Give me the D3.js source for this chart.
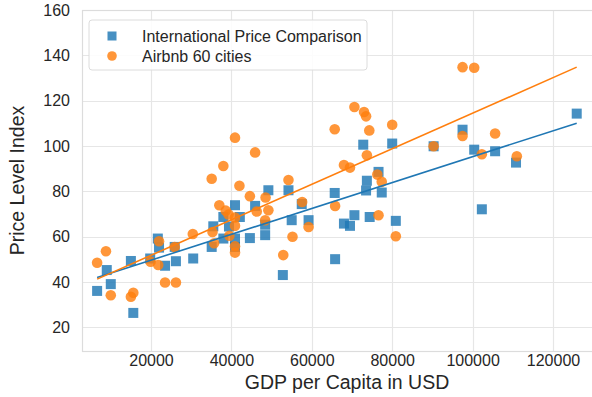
<!DOCTYPE html>
<html>
<head>
<meta charset="utf-8">
<script src="https://cdn.jsdelivr.net/npm/d3@7"></script>
<style>
  html, body { margin: 0; padding: 0; background: #fff; }
  svg { display: block; font-family: "Liberation Sans", Arial, sans-serif; }
</style>
</head>
<body>
<svg id="chart" width="592" height="397"></svg>
<script>
// GDP per capita (USD) vs. price level index
const seriesNames = ["International Price Comparison", "Airbnb 60 cities"];

const ipcGdp = [6600, 9000, 10000, 15000, 15600, 19800, 21700, 22000, 23500, 26200, 25900, 30500,
  35500, 35100, 38000, 38000, 40900, 40900, 39400, 42100, 44600, 45900, 48400, 48400, 49200,
  54200, 57500, 55000, 59200, 52800, 40900,
  65700, 65800, 72800, 80000, 90300, 76600, 73700, 73500, 77400, 70600, 74400, 68000, 69500, 80900,
  97500, 100400, 105600, 110800, 102300, 125900];
const ipcPrice = [36.1, 45.3, 39.1, 49.3, 26.4, 50.4, 59.2, 55.2, 47.2, 49.2, 55.5, 50.4,
  64.6, 55.5, 59.2, 68.7, 73.9, 55.5, 64.5, 68.7, 59.4, 73.6, 65.3, 60.7, 80.5,
  80.5, 74.4, 67.3, 67.3, 43.1, 59.2,
  79.3, 50.1, 100.6, 101.1, 99.9, 88.6, 84.7, 80.4, 79.5, 69.5, 68.7, 65.8, 64.8, 67.0,
  107.2, 98.4, 97.7, 92.7, 72.1, 114.3];

const airGdp = [6600, 8800, 10000, 15000, 15600, 19900, 21800, 22000, 23500, 26200, 25900, 30400,
  35100, 38000, 40900, 45900, 42000, 44600, 48500, 54200, 37000, 38600, 39300, 40900, 40900,
  46300, 49200, 57600, 48400, 35300, 39500, 35700, 40900, 40900, 55200, 59200, 52900,
  65700, 65800, 70600, 73000, 73500, 80000, 74300, 73700, 90300, 68000, 69500, 76300, 77400,
  76600, 80900,
  97500, 100400, 97500, 105600, 102300, 111000];
const airPrice = [48.5, 53.6, 34.2, 33.5, 35.3, 49.0, 47.5, 58.0, 39.8, 39.8, 55.5, 61.2,
  85.6, 91.2, 103.7, 97.2, 82.5, 77.9, 77.3, 85.0, 73.9, 71.5, 69.8, 68.5, 64.8,
  71.1, 71.7, 75.3, 67.3, 62.1, 60.4, 57.1, 55.8, 53.0, 60.0, 64.3, 51.9,
  107.4, 73.6, 117.2, 115.0, 113.1, 109.4, 106.9, 95.9, 99.9, 91.6, 90.5, 87.4, 84.2,
  69.5, 60.2,
  134.8, 134.5, 104.4, 105.5, 96.4, 95.5];

// trend lines: intercept (index points) and slope (index points per USD)
const trendIntercept = [38.23, 36.13];
const trendSlope = [0.0005708, 0.0007837];
// GDP span covered by both trend lines
const trendSpan = [6600, 125900];

const xTicks = [20000, 40000, 60000, 80000, 100000, 120000];
const yTicks = [20, 40, 60, 80, 100, 120, 140, 160];

const colors = ["#1f77b4", "#ff7f0e"];

const ipc = ipcGdp.map((g, i) => ({ g, p: ipcPrice[i] }));
const air = airGdp.map((g, i) => ({ g, p: airPrice[i] }));

// layout
const W = 592, H = 397;
const svg = d3.select("#chart");

const x = d3.scaleLinear().domain([2840, 129700]).range([82, W]);
const y = d3.scaleLinear().domain([9.6, 160]).range([351, 10]);

const gridColor = "#e6e6e6";
const textColor = "#262626";
const font = '"Liberation Sans", Arial, sans-serif';

// grid
svg.append("g").selectAll("line").data(xTicks).join("line")
  .attr("x1", d => Math.round(x(d)) + 0.5).attr("x2", d => Math.round(x(d)) + 0.5)
  .attr("y1", y.range()[1]).attr("y2", y.range()[0])
  .attr("stroke", gridColor).attr("stroke-width", 1.2);
svg.append("g").selectAll("line").data(yTicks).join("line")
  .attr("y1", d => Math.round(y(d)) + 0.5).attr("y2", d => Math.round(y(d)) + 0.5)
  .attr("x1", x.range()[0]).attr("x2", x.range()[1])
  .attr("stroke", gridColor).attr("stroke-width", 1.2);

// spines
svg.append("rect")
  .attr("x", x.range()[0] + 0.5).attr("y", y.range()[1] + 0.5)
  .attr("width", x.range()[1] - x.range()[0] + 5).attr("height", y.range()[0] - y.range()[1])
  .attr("fill", "none").attr("stroke", "#dcdcdc").attr("stroke-width", 1.2);

// axes (labels only, whitegrid style has no tick marks)
const xAxis = svg.append("g").attr("transform", `translate(0,${y.range()[0]})`)
  .call(d3.axisBottom(x).tickValues(xTicks).tickSize(0).tickPadding(4).tickFormat(d3.format("d")));
const yAxis = svg.append("g").attr("transform", `translate(${x.range()[0]},0)`)
  .call(d3.axisLeft(y).tickValues(yTicks).tickSize(0).tickPadding(12).tickFormat(d3.format("d")));
[xAxis, yAxis].forEach(a => {
  a.select(".domain").remove();
  a.selectAll("text").attr("fill", textColor)
    .style("font-size", "16px").style("font-family", font);
});

// axis titles
svg.append("text")
  .attr("x", 347).attr("y", 389)
  .attr("text-anchor", "middle").attr("fill", textColor).style("font-size", "19.5px")
  .text("GDP per Capita in USD");
svg.append("text")
  .attr("transform", `translate(24,${(y.range()[0] + y.range()[1]) / 2}) rotate(-90)`)
  .attr("text-anchor", "middle").attr("fill", textColor).style("font-size", "19.5px")
  .text("Price Level Index");

const plot = svg.append("g");
plot.append("clipPath").attr("id", "clip").append("rect")
  .attr("x", x.range()[0]).attr("y", y.range()[1])
  .attr("width", x.range()[1] - x.range()[0]).attr("height", y.range()[0] - y.range()[1]);
const inner = plot.append("g").attr("clip-path", "url(#clip)");

// scatter
const sq = 10;
inner.append("g").selectAll("rect").data(ipc).join("rect")
  .attr("x", d => x(d.g) - sq / 2).attr("y", d => y(d.p) - sq / 2)
  .attr("width", sq).attr("height", sq)
  .attr("fill", colors[0]).attr("fill-opacity", 0.82);
inner.append("g").selectAll("circle").data(air).join("circle")
  .attr("cx", d => x(d.g)).attr("cy", d => y(d.p)).attr("r", 5.3)
  .attr("fill", colors[1]).attr("fill-opacity", 0.82);

// trend lines
const line = d3.line().x(d => x(d[0])).y(d => y(d[1]));
trendIntercept.forEach((a, i) => {
  const pts = trendSpan.map(g => [g, a + trendSlope[i] * g]);
  inner.append("path").attr("d", line(pts))
    .attr("fill", "none").attr("stroke", colors[i]).attr("stroke-width", 1.6);
});

// legend
const lg = svg.append("g").attr("transform", "translate(89,20)");
lg.append("rect").attr("width", 278).attr("height", 50).attr("rx", 3)
  .attr("fill", "#fff").attr("fill-opacity", 0.85).attr("stroke", "#dcdcdc");
lg.append("rect").attr("x", 23 - 4.5).attr("y", 16 - 4.5).attr("width", 9).attr("height", 9)
  .attr("fill", colors[0]).attr("fill-opacity", 0.82);
lg.append("circle").attr("cx", 23).attr("cy", 36).attr("r", 4.8)
  .attr("fill", colors[1]).attr("fill-opacity", 0.82);
lg.selectAll("text.lab").data(seriesNames).join("text").attr("class", "lab")
  .attr("x", 53).attr("y", (d, i) => 16 + i * 20).attr("dy", "0.35em")
  .attr("fill", textColor).style("font-size", "16px").style("font-family", font).text(d => d);
</script>
</body>
</html>
